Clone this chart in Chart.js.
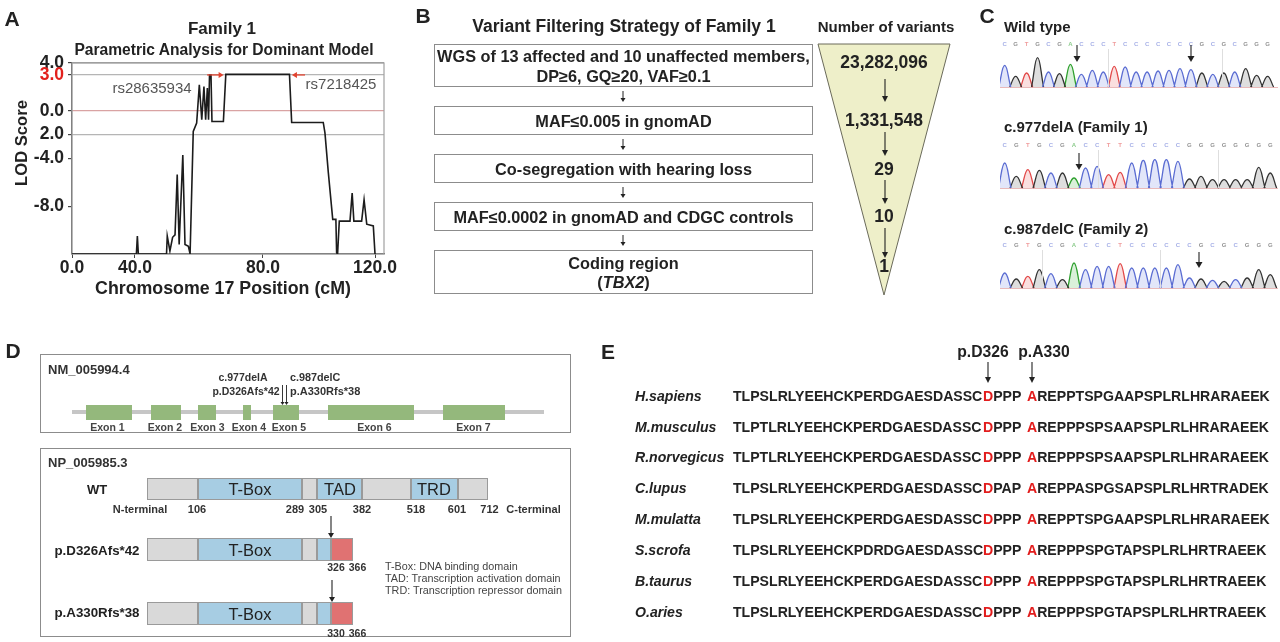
<!DOCTYPE html>
<html><head><meta charset="utf-8">
<script src="https://cdn.jsdelivr.net/npm/chart.js@4.4.1/dist/chart.umd.min.js"></script>
<style>
body{margin:0;background:#fff;}
#root{position:relative;width:1280px;height:642px;overflow:hidden;font-family:"Liberation Sans",Arial,sans-serif;color:#222;background:#fff;}
.t{position:absolute;white-space:nowrap;line-height:1;}
canvas{position:absolute;}
svg{position:absolute;left:0;top:0;z-index:5;}
</style></head>
<body><div id="root">
<canvas id="lod" width="400" height="300" style="left:0;top:0"></canvas>
<canvas id="c1" width="278" height="50" style="left:1000px;top:38px"></canvas>
<canvas id="c2" width="278" height="50" style="left:1000px;top:139px"></canvas>
<canvas id="c3" width="278" height="50" style="left:1000px;top:239px"></canvas>
<svg id="ov" width="1280" height="642"></svg>
</div>
<script>
// ---------- DATA ----------
const lodX = [0, 26.5, 26.9, 27.3, 38.9, 39.2, 40.3, 41.4, 42.4, 43.3, 44.1, 45.6, 46.5, 47.9, 48.6, 49.9, 51.3, 52.4, 53.4, 54.3, 55.0, 55.7, 56.2, 56.6, 57.2, 57.6, 62.3, 63.3, 89.5, 90.4, 103.4, 104.1, 105.5, 107.3, 108.6, 108.9, 109.3, 110.0, 114.4, 115.3, 116.0, 119.2, 120.2, 121.3, 124.0, 124.7];
const lodY = [-12, -12, -10.5, -12, -12, -10.5, -11.75, -10.6, -10.4, -5.35, -11.2, -3.7, -11.2, -11.35, -12, -1.73, -1.03, 2.17, -0.75, 2.03, -0.75, 1.9, -0.75, 3.0, 3.0, -0.9, -0.9, 3.05, 3.05, -0.98, -0.98, -1.86, -5.2, -9.1, -9.1, -11.9, -12, -9.25, -9.25, -6.9, -9.25, -9.25, -7.45, -9.5, -9.65, -12];
const yTickVals = [4, 3, 0, -2, -4, -8];
const yTickLabels = ['4.0', '3.0', '0.0', '2.0', '-4.0', '-8.0'];
const xTickVals = [0, 25.9, 78.6, 124.7];
const xTickLabels = ['0.0', '40.0', '80.0', '120.0'];
const markerStart = [55.6, 95.9];
const markerTip = [62.4, 90.5];
const markerLabels = ['rs28635934', 'rs7218425'];

const filterSteps = [
  ['WGS of 13 affected and 10 unaffected members,', 'DP≥6, GQ≥20, VAF≥0.1'],
  ['MAF≤0.005 in gnomAD'],
  ['Co-segregation with hearing loss'],
  ['MAF≤0.0002 in gnomAD and CDGC controls'],
  ['Coding region', '(<i>TBX2</i>)']
];
const variantCounts = ['23,282,096', '1,331,548', '29', '10', '1'];

const traceTitles = ['Wild type', 'c.977delA (Family 1)', 'c.987delC (Family 2)'];
const traceBases = ['CGTGCGACCCTCCCCCCCGCGCGGG', 'CGTGCGACCTTCCCCCGGGGGGGG', 'CGTGCGACCCTCCCCCCGCGCGGG'];
const traceHeights = [
  [65, 32, 42, 88, 45, 40, 68, 38, 50, 45, 62, 60, 45, 45, 48, 50, 55, 52, 42, 38, 42, 45, 55, 35, 32],
  [75, 35, 55, 53, 45, 45, 30, 60, 65, 40, 47, 75, 83, 85, 85, 80, 27, 35, 25, 25, 25, 25, 62, 45],
  [45, 27, 35, 55, 43, 25, 75, 55, 65, 65, 73, 60, 60, 60, 60, 70, 30, 27, 23, 20, 25, 30, 55, 40]
];

const exonNames = ['Exon 1', 'Exon 2', 'Exon 3', 'Exon 4', 'Exon 5', 'Exon 6', 'Exon 7'];
const domainNums = ['N-terminal', '106', '289', '305', '382', '518', '601', '712', 'C-terminal'];
const mutantNames = ['p.D326Afs*42', 'p.A330Rfs*38'];
const mutantNums = [['326', '366'], ['330', '366']];
const legendLines = ['T-Box: DNA binding domain', 'TAD: Transcription activation domain', 'TRD: Transcription repressor domain'];

const species = ['H.sapiens', 'M.musculus', 'R.norvegicus', 'C.lupus', 'M.mulatta', 'S.scrofa', 'B.taurus', 'O.aries'];
const seqPre = ['TLPSLRLYEEHCKPERDGAESDASSC', 'TLPTLRLYEEHCKPERDGAESDASSC', 'TLPTLRLYEEHCKPERDGAESDASSC', 'TLPSLRLYEEHCKPERDGAESDASSC', 'TLPSLRLYEEHCKPERDGAESDASSC', 'TLPSLRLYEEHCKPDRDGAESDASSC', 'TLPSLRLYEEHCKPERDGAESDASSC', 'TLPSLRLYEEHCKPERDGAESDASSC'];
const seqMid = ['PPP', 'PPP', 'PPP', 'PAP', 'PPP', 'PPP', 'PPP', 'PPP'];
const seqPost = ['REPPTSPGAAPSPLRLHRARAEEK', 'REPPPSPSAAPSPLRLHRARAEEK', 'REPPPSPSAAPSPLRLHRARAEEK', 'REPPASPGSAPSPLRLHRTRADEK', 'REPPTSPGAAPSPLRLHRARAEEK', 'REPPPSPGTAPSPLRLHRTRAEEK', 'REPPPSPGTAPSPLRLHRTRAEEK', 'REPPPSPGTAPSPLRLHRTRAEEK'];

// ---------- helpers ----------
const FONT = '"Liberation Sans", Arial, sans-serif';
const root = document.getElementById('root');
function txt(s, x, y, o) {
  o = o || {};
  const d = document.createElement('div');
  d.className = 't';
  d.innerHTML = s;
  d.style.left = x + 'px'; d.style.top = y + 'px';
  d.style.fontSize = (o.size || 12) + 'px';
  d.style.fontWeight = o.bold === false ? 'normal' : 'bold';
  if (o.italic) d.style.fontStyle = 'italic';
  d.style.color = o.color || '#222';
  const a = o.a || 'c';
  let tr = a === 'c' ? 'translate(-50%,-50%)' : a === 'l' ? 'translate(0,-50%)' : 'translate(-100%,-50%)';
  if (o.rot) tr += ' rotate(' + o.rot + 'deg)';
  d.style.transform = tr;
  d.style.zIndex = 6;
  root.appendChild(d);
  return d;
}
function div(x, y, w, h, css) {
  const d = document.createElement('div');
  d.style.position = 'absolute';
  d.style.left = x + 'px'; d.style.top = y + 'px';
  d.style.width = w + 'px'; d.style.height = h + 'px';
  Object.assign(d.style, css || {});
  root.appendChild(d);
  return d;
}
const svg = document.getElementById('ov');
const NS = 'http://www.w3.org/2000/svg';
function sv(tag, attrs) {
  const e = document.createElementNS(NS, tag);
  for (const k in attrs) e.setAttribute(k, attrs[k]);
  svg.appendChild(e); return e;
}
function arrow(x, y1, y2, hw, hl, w) {
  hw = hw || 3; hl = hl || 5; w = w || 1.1;
  sv('line', {x1: x, y1: y1, x2: x, y2: y2 - hl + 1, stroke: '#222', 'stroke-width': w});
  sv('path', {d: `M${x - hw} ${y2 - hl} L${x + hw} ${y2 - hl} L${x} ${y2} Z`, fill: '#222'});
}

// ---------- Panel A ----------
txt('A', 12, 18, {size: 21});
txt('Family 1', 222, 28, {size: 17});
txt('Parametric Analysis for Dominant Model', 224, 50, {size: 15.6});
txt('LOD Score', 22, 143, {size: 16.6, rot: -90});
txt('Chromosome 17 Position (cM)', 223, 289, {size: 17.8});

const boxPlugin = {
  id: 'box',
  beforeDatasetsDraw(chart) {
    const a = chart.chartArea, c = chart.ctx;
    c.save(); c.strokeStyle = '#a0a0a0'; c.lineWidth = 1.2;
    c.strokeRect(a.left, a.top, a.right - a.left, a.bottom - a.top);
    c.restore();
  },
  afterDatasetsDraw(chart) {
    const c = chart.ctx, xs = chart.scales.x, ys = chart.scales.y;
    const y = ys.getPixelForValue(3);
    c.save(); c.strokeStyle = '#e2432f'; c.fillStyle = '#e2432f'; c.lineWidth = 1.3;
    for (let i = 0; i < markerStart.length; i++) {
      const x0 = xs.getPixelForValue(markerStart[i]), x1 = xs.getPixelForValue(markerTip[i]);
      const dir = x1 > x0 ? 1 : -1;
      c.beginPath(); c.moveTo(x0, y); c.lineTo(x1 - dir * 3, y); c.stroke();
      c.beginPath(); c.moveTo(x1, y); c.lineTo(x1 - dir * 5, y - 3); c.lineTo(x1 - dir * 5, y + 3); c.closePath(); c.fill();
    }
    c.restore();
  }
};
new Chart(document.getElementById('lod'), {
  type: 'line',
  data: {datasets: [{data: lodX.map((x, i) => ({x: x, y: lodY[i]})), borderColor: '#1c1c1c', borderWidth: 1.6, pointRadius: 0, tension: 0, fill: false}]},
  options: {
    responsive: false, animation: false, devicePixelRatio: 1, events: [],
    plugins: {legend: {display: false}, tooltip: {enabled: false}},
    layout: {padding: {top: 63, right: 16, left: 0, bottom: 0}},
    scales: {
      x: {
        type: 'linear', min: 0, max: 128.4,
        afterFit(s) { s.height = 46; },
        afterBuildTicks(s) { s.ticks = xTickVals.map(v => ({value: v})); },
        ticks: {callback: (v, i) => xTickLabels[i], font: {family: FONT, size: 17.5, weight: 'bold'}, color: '#222', padding: 0, maxRotation: 0, autoSkip: false},
        grid: {drawOnChartArea: false, color: '#444', tickColor: '#444', tickLength: 4},
        border: {color: '#555', width: 1.2}
      },
      y: {
        min: -12, max: 4,
        afterFit(s) { s.width = 72; },
        afterBuildTicks(s) { s.ticks = yTickVals.map(v => ({value: v})); },
        ticks: {callback: (v, i) => yTickLabels[i], color: c => (c.tick && c.tick.value === 3) ? '#e2201c' : '#222', font: {family: FONT, size: 17.5, weight: 'bold'}, padding: 4, autoSkip: false},
        grid: {
          color: c => { const v = c.tick ? c.tick.value : null; if (v === 0) return '#d9a3a3'; if (v === 3 || v === -2) return '#b5b5b5'; if (v === 4) return '#a0a0a0'; return 'rgba(0,0,0,0)'; },
          tickColor: '#444', tickLength: 4, lineWidth: 1.2
        },
        border: {color: '#555', width: 1.2}
      }
    }
  },
  plugins: [boxPlugin]
});
txt(markerLabels[0], 152, 87, {size: 15, bold: false, color: '#555'});
txt(markerLabels[1], 341, 83, {size: 15, bold: false, color: '#555'});

// ---------- Panel B ----------
txt('B', 423, 15, {size: 21});
txt('Variant Filtering Strategy of Family 1', 624, 27, {size: 17.5});
txt('Number of variants', 886, 26, {size: 15});
const boxTops = [44, 106, 154, 202, 250], boxHs = [43, 29, 29, 29, 44];
filterSteps.forEach((lines, i) => {
  div(434, boxTops[i], 379, boxHs[i], {border: '1.5px solid #8c8c8c', boxSizing: 'border-box', background: '#fff'});
  const cy = boxTops[i] + boxHs[i] / 2;
  if (lines.length === 1) txt(lines[0], 623.5, cy, {size: 16.3});
  else { txt(lines[0], 623.5, cy - 9.5, {size: 16.3}); txt(lines[1], 623.5, cy + 10, {size: 16.3}); }
  if (i < filterSteps.length - 1) arrow(623, boxTops[i] + boxHs[i] + 4, boxTops[i + 1] - 4, 2.5, 4, 1);
});
sv('polygon', {points: '818,44 950,44 884,295', fill: '#eeefc9', stroke: '#6a6a5a', 'stroke-width': 1});
const countY = [63, 121, 170, 217, 267];
variantCounts.forEach((s, i) => txt(s, 884, countY[i], {size: 17.5}));
arrow(885, 79, 102, 3, 6); arrow(885, 132, 156, 3, 6); arrow(885, 180, 204, 3, 6); arrow(885, 228, 258, 3, 6);

// ---------- Panel C ----------
txt('C', 987, 15, {size: 21});
const titleY = [26, 126, 228];
const colMap = {C: ['#5a6cd2', 'rgba(110,130,225,0.20)'], G: ['#333333', 'rgba(0,0,0,0.13)'], T: ['#e24848', 'rgba(230,80,80,0.18)'], A: ['#2ea02e', 'rgba(50,170,50,0.18)']};
const vlines = [[1108, 1222], [1098, 1218], [1042, 1160]];
const baseY = [87, 188, 288];
traceTitles.forEach((t, k) => {
  txt(t, 1004, titleY[k], {size: 15, a: 'l'});
  vlines[k].forEach(x => div(x, baseY[k] - 38, 1, 38, {background: '#dedede'}));
});
function makeTrace(id, bases, hts, xmin, xmax) {
  const datasets = ['C', 'G', 'T', 'A'].map(b => {
    const pts = [];
    for (let i = 0; i < bases.length; i++) {
      if (bases[i] !== b) continue;
      const c = i + 1;
      pts.push({x: c - 0.55, y: 0}, {x: c, y: hts[i]}, {x: c + 0.55, y: 0}, {x: c + 0.56, y: null});
    }
    return {data: pts, borderColor: colMap[b][0], backgroundColor: colMap[b][1], borderWidth: 1.3, pointRadius: 0, tension: 0.45, fill: 'origin', spanGaps: false};
  });
  const letters = {
    id: 'letters',
    beforeDatasetsDraw(chart) {
      const c = chart.ctx, ys = chart.scales.y, a = chart.chartArea;
      c.save(); c.strokeStyle = '#e9b9b9'; c.lineWidth = 1;
      const y0 = ys.getPixelForValue(0) + 0.5;
      c.beginPath(); c.moveTo(a.left, y0); c.lineTo(a.right, y0); c.stroke(); c.restore();
    },
    afterDraw(chart) {
      const c = chart.ctx, xs = chart.scales.x;
      c.save(); c.font = 'bold 6px ' + FONT; c.textAlign = 'center'; c.textBaseline = 'middle'; c.globalAlpha = 0.55;
      for (let i = 0; i < bases.length; i++) {
        c.fillStyle = colMap[bases[i]][0];
        c.fillText(bases[i], xs.getPixelForValue(i + 1), 6);
      }
      c.restore();
    }
  };
  new Chart(document.getElementById(id), {
    type: 'line', data: {datasets: datasets},
    options: {
      responsive: false, animation: false, devicePixelRatio: 1, events: [],
      plugins: {legend: {display: false}, tooltip: {enabled: false}},
      layout: {padding: {top: 16, left: 0, right: 0, bottom: 0}},
      scales: {x: {type: 'linear', min: xmin, max: xmax, display: false}, y: {min: -3, max: 99, display: false}}
    },
    plugins: [letters]
  });
}
makeTrace('c1', traceBases[0], traceHeights[0], 0.57, 25.95);
makeTrace('c2', traceBases[1], traceHeights[1], 0.59, 24.67);
makeTrace('c3', traceBases[2], traceHeights[2], 0.59, 24.67);
arrow(1077, 45, 62, 3.5, 6); arrow(1191, 45, 62, 3.5, 6);
arrow(1079, 153, 170, 3.5, 6);
arrow(1199, 252, 268, 3.5, 6);

// ---------- Panel D ----------
txt('D', 13, 350, {size: 21});
div(40, 354, 531, 79, {border: '1.5px solid #8c8c8c', boxSizing: 'border-box'});
div(40, 448, 531, 189, {border: '1.5px solid #8c8c8c', boxSizing: 'border-box'});
txt('NM_005994.4', 48, 369, {size: 13, a: 'l', color: '#333'});
txt('NP_005985.3', 48, 462, {size: 13, a: 'l', color: '#333'});
div(72, 410, 472, 4, {background: '#c6c6c6'});
const exonL = [86, 151, 198, 243, 273, 328, 443], exonR = [132, 181, 216, 251, 299, 414, 505];
const exonLab = [107.5, 165, 207.5, 249, 289, 374.5, 473.5];
exonNames.forEach((n, i) => {
  div(exonL[i], 405, exonR[i] - exonL[i], 15, {background: '#94b87c'});
  txt(n, exonLab[i], 427, {size: 10.5, color: '#444'});
});
txt('c.977delA', 243, 377, {size: 10.5, color: '#333'});
txt('p.D326Afs*42', 246, 391, {size: 10.5, color: '#333'});
txt('c.987delC', 290, 377, {size: 10.8, color: '#333', a: 'l'});
txt('p.A330Rfs*38', 290, 391, {size: 11, color: '#333', a: 'l'});
arrow(282.5, 385, 405, 2, 3, 0.9); arrow(286.5, 385, 405, 2, 3, 0.9);

const GR = '#d9d9d9', BL = '#a7cde3', RD = '#e07272';
function bar(top, h, segs) { segs.forEach(s => div(s[0], top, s[1] - s[0], h, {background: s[2], border: '1px solid #9a9a9a', boxSizing: 'border-box'})); }
bar(478, 22, [[147, 198, GR], [198, 302, BL], [302, 317, GR], [317, 362, BL], [362, 411, GR], [411, 458, BL], [458, 488, GR]]);
bar(538, 23, [[147, 198, GR], [198, 302, BL], [302, 317, GR], [317, 331, BL], [331, 353, RD]]);
bar(602, 23, [[147, 198, GR], [198, 302, BL], [302, 317, GR], [317, 331, BL], [331, 353, RD]]);
txt('T-Box', 250, 489, {size: 16.5, bold: false});
txt('TAD', 340, 489, {size: 16.5, bold: false});
txt('TRD', 434, 489, {size: 16.5, bold: false});
txt('T-Box', 250, 550, {size: 16.5, bold: false});
txt('T-Box', 250, 614, {size: 16.5, bold: false});
txt('WT', 97, 489, {size: 13});
txt(mutantNames[0], 97, 551, {size: 13.3});
txt(mutantNames[1], 97, 613, {size: 13.3});
const numX = [140, 197, 295, 318, 362, 416, 457, 489.5, 533.5];
domainNums.forEach((n, i) => txt(n, numX[i], 509, {size: 11, color: '#333'}));
txt(mutantNums[0][0], 336, 567, {size: 10.5, color: '#333'}); txt(mutantNums[0][1], 357.5, 567, {size: 10.5, color: '#333'});
txt(mutantNums[1][0], 336, 633, {size: 10.5, color: '#333'}); txt(mutantNums[1][1], 357.5, 633, {size: 10.5, color: '#333'});
arrow(331, 516, 538, 3, 5); arrow(332, 580, 602, 3, 5);
legendLines.forEach((s, i) => txt(s, 385, 566 + i * 12, {size: 10.8, bold: false, color: '#444', a: 'l'}));

// ---------- Panel E ----------
txt('E', 608, 351, {size: 21});
txt('p.D326', 983, 352, {size: 15.7});
txt('p.A330', 1044, 352, {size: 15.7});
arrow(988, 362, 383, 3, 6); arrow(1032, 362, 383, 3, 6);
const rowY = [396, 427, 457, 488, 519, 550, 581, 612];
species.forEach((sp, i) => {
  txt(sp, 635, rowY[i], {size: 14.1, italic: true, a: 'l'});
  txt(seqPre[i], 733, rowY[i], {size: 14.1, a: 'l'});
  txt('<span style="color:#e21d1d">D</span>' + seqMid[i], 983, rowY[i], {size: 14.1, a: 'l'});
  txt('<span style="color:#e21d1d">A</span>' + seqPost[i], 1027, rowY[i], {size: 14.1, a: 'l'});
});
</script>
</body></html>
